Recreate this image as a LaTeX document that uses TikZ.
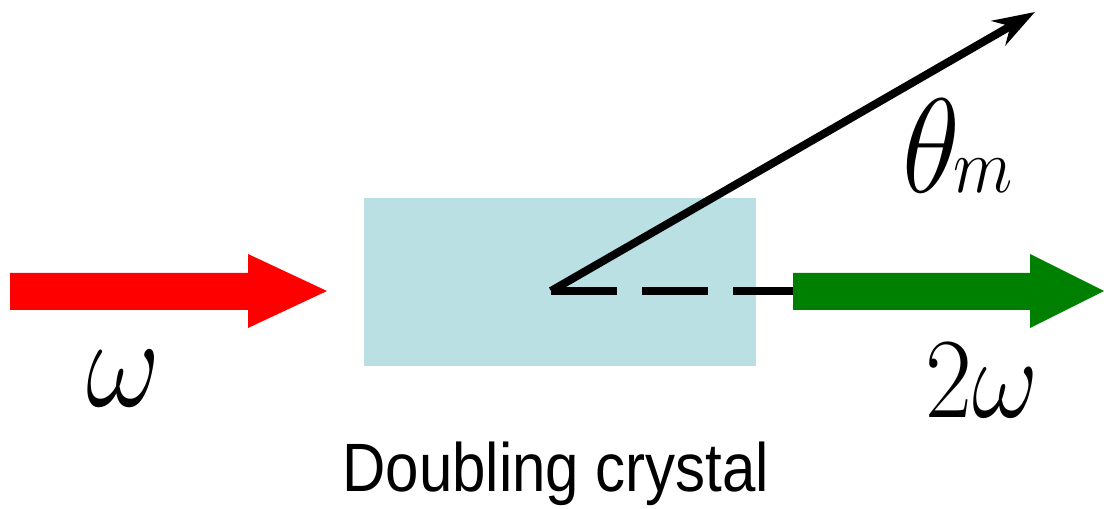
\documentclass[tikz,border=0pt]{standalone}
\usepackage{fontspec}
\newfontfamily\sansfont{Liberation Sans}
\usepackage{tikz}
\usetikzlibrary{positioning,arrows.meta}
\usepackage{xcolor}
\definecolor{crystalblue}{HTML}{BBE0E3}
\definecolor{beamred}{HTML}{FF0000}
\definecolor{beamgreen}{HTML}{008000}

\begin{document}
\begin{tikzpicture}[x=0.5pt,y=0.5pt,>={Stealth[length=21pt,width=14pt]}]
\useasboundingbox (0,0) rectangle (1104,509);
\node[fill=crystalblue,minimum width=196pt,minimum height=84pt,inner sep=0pt] (xtal) at (560,227) {};
\fill[beamred] (10,199) -- (248,199) -- (248,181) -- (327,218) -- (248,255) -- (248,236) -- (10,236) -- cycle;
\coordinate (O) at (551,218);
\coordinate (kdir) at (1035,497);
\coordinate (gstart) at (793,218);
\draw[line width=4pt,dash pattern=on 33pt off 12.5pt] (O) -- (gstart);
\draw[->,line width=4pt,line join=miter] (O) -- (kdir);
\fill[beamgreen] (793,199) -- (1030,199) -- (1030,181) -- (1104,218) -- (1030,255) -- (1030,236) -- (793,236) -- cycle;
\node[anchor=base,font=\Huge,inner sep=0pt,xscale=2.3,yscale=2.6,transform shape] (w) at (123,102) {$\omega$};
\node[anchor=base,font=\Huge,inner sep=0pt,xscale=2.05,yscale=2.3,transform shape] (w2) at (982,91) {$2\omega$};
\node[anchor=base west,font=\Huge,inner sep=0pt,xscale=2.4,yscale=2.7,transform shape] (theta) at (902,316) {$\theta$\kern-1.5pt{\Large$m$}};
\node[anchor=base,font=\sansfont\fontsize{30}{30}\selectfont,inner sep=0pt,yscale=1.14,transform shape] (label) at (556,17) {Doubling crystal};
\end{tikzpicture}
\end{document}
